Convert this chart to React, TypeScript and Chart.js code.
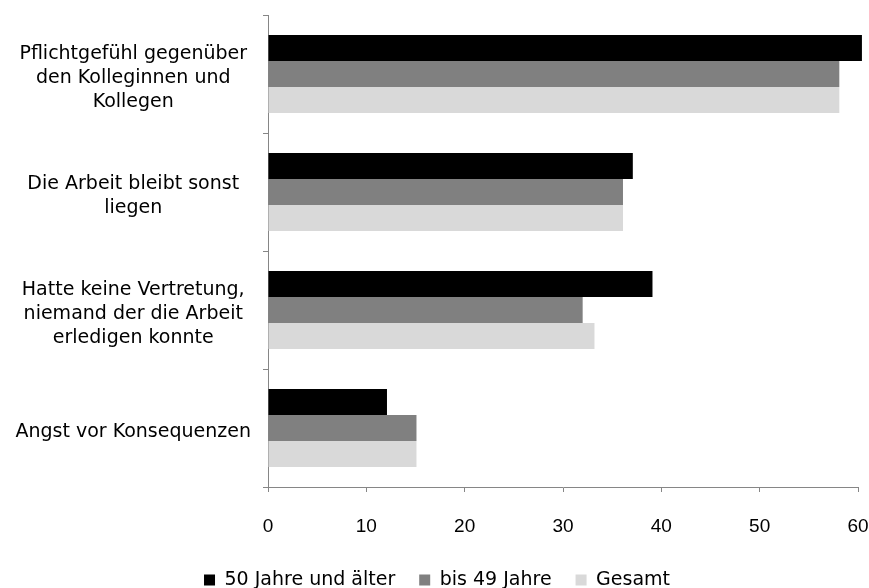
import React, { useEffect, useRef } from "react";
import { Chart, registerables } from "chart.js";

Chart.register(...registerables);

const categories: string[][] = [
  ["Pflichtgefühl gegenüber", "den Kolleginnen und", "Kollegen"],
  ["Die Arbeit bleibt sonst", "liegen"],
  ["Hatte keine Vertretung,", "niemand der die Arbeit", "erledigen konnte"],
  ["Angst vor Konsequenzen"],
];
const seriesNames = ["50 Jahre und älter", "bis 49 Jahre", "Gesamt"];
const values50plus = [60.4, 37.1, 39.1, 12.1];
const valuesBis49 = [58.1, 36.1, 32.0, 15.1];
const valuesGesamt = [58.1, 36.1, 33.2, 15.1];
const xTicks = [0, 10, 20, 30, 40, 50, 60];

const colors = ["#000000", "#808080", "#d9d9d9"];
const axisColor = "#868686";
const tickFont = "'Liberation Sans', sans-serif";
const labelFont = "'DejaVu Sans', sans-serif";

export default function App() {
  const ref = useRef<HTMLCanvasElement | null>(null);
  useEffect(() => {
    document.body.style.margin = "0";
    document.documentElement.style.overflow = "hidden";
    const canvas = ref.current;
    if (!canvas) return;
    const data = [values50plus, valuesBis49, valuesGesamt];
    const legendShift = {
      id: "legendShift",
      afterLayout(chart: any) {
        const lg = chart.legend;
        if (lg) {
          lg.left = lg.left + 8;
          lg.right = lg.right + 8;
        }
      },
    };
    const chart = new Chart(canvas, {
      type: "bar",
      data: {
        labels: categories,
        datasets: seriesNames.map((name, i) => ({
          label: name,
          data: data[i],
          backgroundColor: colors[i],
          borderWidth: 0,
          barPercentage: 1,
          categoryPercentage: 0.661,
          clip: false as any,
        })),
      },
      options: {
        indexAxis: "y",
        animation: false,
        responsive: false,
        maintainAspectRatio: false,
        layout: { padding: { top: 15, right: 11, left: 0, bottom: -11.5 } },
        plugins: {
          tooltip: { enabled: false },
          legend: {
            position: "bottom",
            labels: {
              boxWidth: 11,
              boxHeight: 11,
              padding: 24,
              color: "#000",
              font: { family: labelFont, size: 19 },
            },
          },
        },
        scales: {
          x: {
            min: 0,
            max: 60,
            afterBuildTicks(scale: any) {
              scale.ticks = xTicks.map((v) => ({ value: v }));
            },
            afterFit(scale: any) {
              scale.height = 59.5;
              scale.paddingLeft = 0;
              scale.paddingRight = 0;
            },
            grid: {
              drawOnChartArea: false,
              tickLength: 5,
              color: axisColor,
            },
            border: { color: axisColor, width: 1 },
            ticks: {
              padding: 23,
              color: "#000",
              font: { family: tickFont, size: 19 },
              maxRotation: 0,
            },
          },
          y: {
            type: "category",
            afterFit(scale: any) {
              scale.width = 268;
              scale.paddingTop = 0;
              scale.paddingBottom = 0;
            },
            grid: {
              offset: true,
              drawOnChartArea: false,
              tickLength: 5,
              color: axisColor,
            },
            border: { color: axisColor, width: 1 },
            ticks: {
              crossAlign: "center",
              padding: 12,
              labelOffset: 4,
              color: "#000",
              font: { family: labelFont, size: 19, lineHeight: 1.263 },
            },
          },
        },
      },
      plugins: [legendShift],
    } as any);
    return () => chart.destroy();
  }, []);
  return (
    <div style={{ width: 869, height: 588 }}>
      <canvas ref={ref} width={869} height={588} style={{ display: "block" }} />
    </div>
  );
}
